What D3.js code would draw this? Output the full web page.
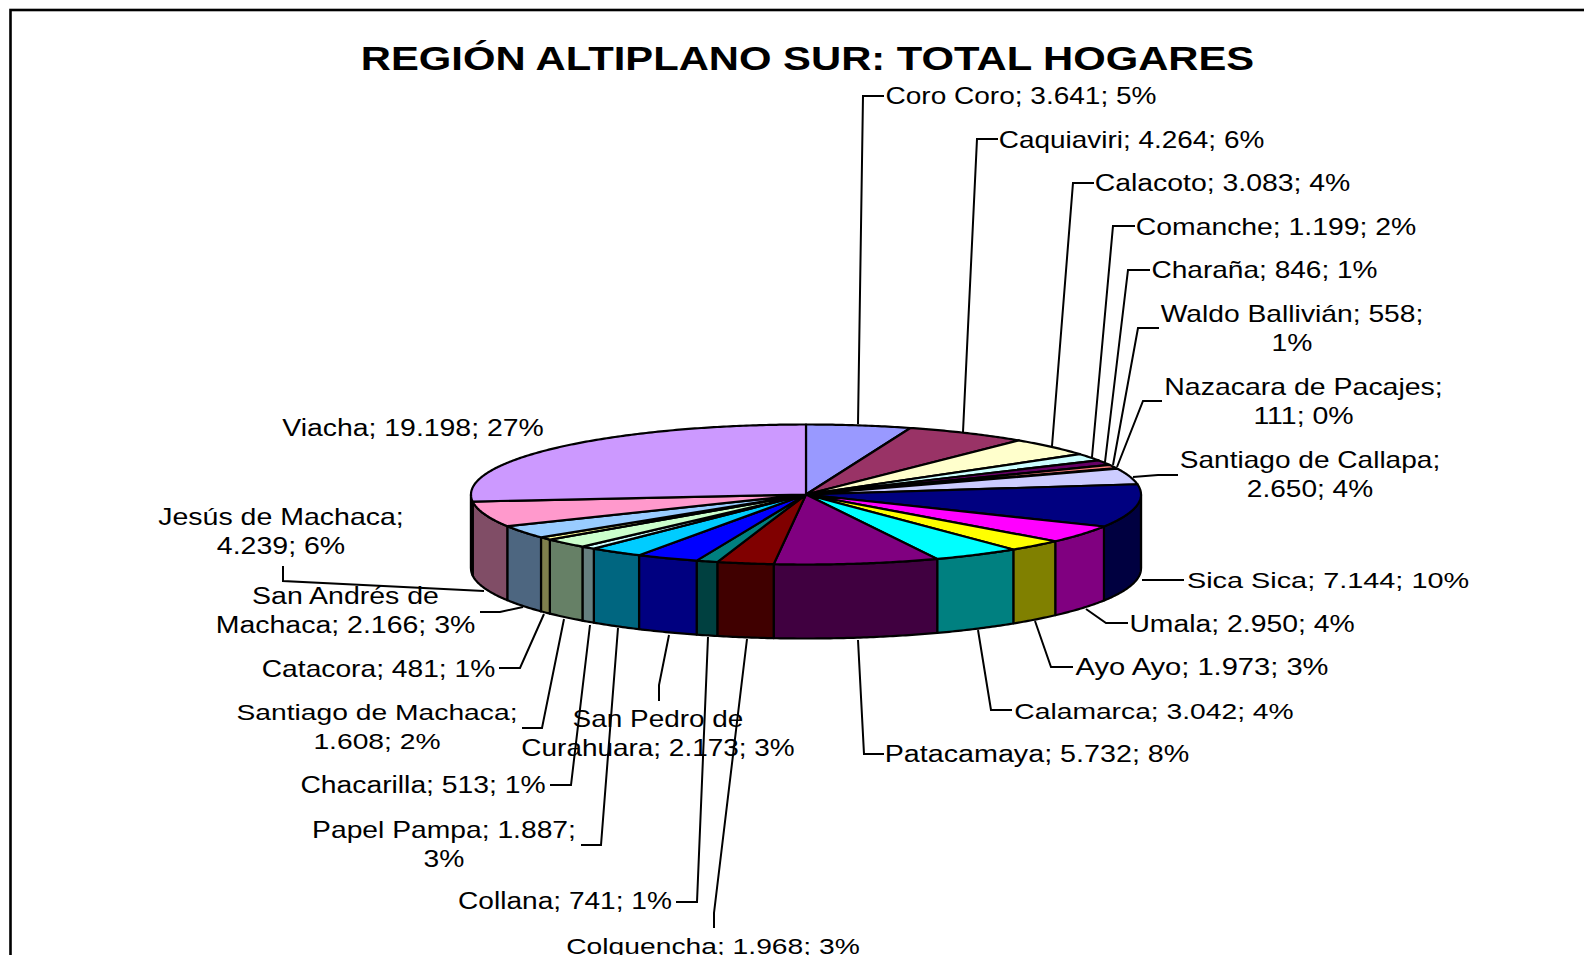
<!DOCTYPE html>
<html><head><meta charset="utf-8"><script src="https://cdn.jsdelivr.net/npm/d3@7"></script>
<style>html,body{margin:0;padding:0;background:#fff;overflow:hidden}svg{display:block}text{font-family:"Liberation Sans",Arial,sans-serif;fill:#000}</style></head>
<body><svg id="c" width="1584" height="955"></svg>
<script>
const titleText = "REGIÓN ALTIPLANO SUR: TOTAL HOGARES";
const categories = ["Coro Coro","Caquiaviri","Calacoto","Comanche","Charaña","Waldo Ballivián","Nazacara de Pacajes","Santiago de Callapa","Sica Sica","Umala","Ayo Ayo","Calamarca","Patacamaya","Colquencha","Collana","San Pedro de Curahuara","Papel Pampa","Chacarilla","Santiago de Machaca","Catacora","San Andrés de Machaca","Jesús de Machaca","Viacha"];
const values = [3641,4264,3083,1199,846,558,111,2650,7144,2950,1973,3042,5732,1968,741,2173,1887,513,1608,481,2166,4239,19198];
const colors = ["#9999FF","#993366","#FFFFCC","#CCFFFF","#660066","#FF8080","#0066CC","#CCCCFF","#000080","#FF00FF","#FFFF00","#00FFFF","#800080","#800000","#008080","#0000FF","#00CCFF","#CCFFFF","#CCFFCC","#FFFF99","#99CCFF","#FF99CC","#CC99FF"];
const labelLines = [
 ["Coro Coro; 3.641; 5%"],["Caquiaviri; 4.264; 6%"],["Calacoto; 3.083; 4%"],["Comanche; 1.199; 2%"],["Charaña; 846; 1%"],
 ["Waldo Ballivián; 558;","1%"],["Nazacara de Pacajes;","111; 0%"],["Santiago de Callapa;","2.650; 4%"],["Sica Sica; 7.144; 10%"],
 ["Umala; 2.950; 4%"],["Ayo Ayo; 1.973; 3%"],["Calamarca; 3.042; 4%"],["Patacamaya; 5.732; 8%"],["Colquencha; 1.968; 3%"],
 ["Collana; 741; 1%"],["San Pedro de","Curahuara; 2.173; 3%"],["Papel Pampa; 1.887;","3%"],["Chacarilla; 513; 1%"],
 ["Santiago de Machaca;","1.608; 2%"],["Catacora; 481; 1%"],["San Andrés de","Machaca; 2.166; 3%"],["Jesús de Machaca;","4.239; 6%"],["Viacha; 19.198; 27%"]];
const labelCentres = [1021,1131.5,1222.5,1276,1264.5,1292,1303.5,1310,1328,1242,1202,1154,1037,713,565,658,444,423,377,378.5,345.5,281,413];
const labelBaselines = [104,148,191,235,278,322,395,468,588,632,675,719,762,954,908.5,727,838,793,720,677,604,525,436];
const labelStretch = [1.219,1.215,1.234,1.233,1.220,1.229,1.238,1.220,1.255,1.232,1.266,1.228,1.248,1.228,1.221,1.215,1.229,1.230,1.228,1.226,1.239,1.240,1.234];
const lineHeight = 29.3;
const leaders = [
 [[884,96],[863,96],[858,424]],[[998,139],[977,139],[963,432]],[[1094,183],[1073,183],[1052,446]],[[1135,226],[1113,226],[1092,457]],
 [[1150,270],[1128,270],[1105,462]],[[1159,328],[1138,328],[1113,465]],[[1162,401],[1143,401],[1117,467]],[[1178,475],[1158,475],[1133,477]],
 [[1184,580],[1142,580]],[[1128,623],[1106,623],[1086,609]],[[1073,667],[1051,667],[1035,621]],[[1012,710],[991,710],[978,630]],
 [[884,754],[864,754],[858,640]],[[714,928],[714,913],[747,639]],[[676,902],[697,902],[708,637]],[[659,701],[659,685],[669,635]],
 [[581,845],[601,845],[618,628]],[[550,785],[571,785],[590,625]],[[522,728],[542,728],[564,619]],[[499,668],[520,668],[544,614]],
 [[480,612],[500,612],[523,607]],[[283,566],[283,581],[484,591]]];

const W=1584,H=955,cx=806,cy=494.5,rx=335,ry=70,depth=74;
const svg=d3.select("#c");
svg.append("rect").attr("x",10.5).attr("y",10).attr("width",W+20).attr("height",H+20).attr("fill","#fff").attr("stroke","#000").attr("stroke-width",2.6);

const pie=d3.pie().sort(null).value(d=>d)(values);
const px=a=>cx+rx*Math.sin(a), py=a=>cy-ry*Math.cos(a);
const darker=c=>{const r=d3.rgb(c);return d3.rgb(r.r/2,r.g/2,r.b/2).formatHex();};
function arcPts(a0,a1,yOff){const n=Math.max(2,Math.ceil((a1-a0)/0.01));return d3.range(n+1).map(i=>{const a=a0+(a1-a0)*i/n;return [px(a),py(a)+yOff];});}
const line=d3.line();
const g=svg.append("g").attr("stroke","#000").attr("stroke-width",2.2).attr("stroke-linejoin","round");
pie.forEach((s,i)=>{
  const a0=Math.max(s.startAngle,Math.PI/2), a1=Math.min(s.endAngle,Math.PI*1.5);
  if(a1<=a0) return;
  const top=arcPts(a0,a1,0), bot=arcPts(a0,a1,depth).reverse();
  g.append("path").attr("d",line(top.concat(bot))+"Z").attr("fill",darker(colors[i]));
});
g.append("path").attr("fill","none").attr("d",line([[px(Math.PI/2),cy],[px(Math.PI/2),cy+depth]]));
g.append("path").attr("fill","none").attr("d",line([[px(Math.PI*1.5),cy],[px(Math.PI*1.5),cy+depth]]));
pie.forEach((s,i)=>{
  g.append("path").attr("d",line([[cx,cy]].concat(arcPts(s.startAngle,s.endAngle,0)))+"Z").attr("fill",colors[i]).attr("stroke-width",s.value<200?1:2.2);
});
svg.append("g").attr("fill","none").attr("stroke","#000").attr("stroke-width",2).selectAll("path").data(leaders).join("path").attr("d",d=>line(d));
function stretchedText(str,x,y,size,weight,sx){
  svg.append("text").attr("transform",`translate(${x},${y}) scale(${sx},1)`).attr("text-anchor","middle").attr("font-size",size).attr("font-weight",weight||"normal").text(str);
}
stretchedText(titleText,807.5,69.5,33.5,"bold",1.247);
labelLines.forEach((ls,i)=>ls.forEach((t,j)=>stretchedText(t,labelCentres[i],labelBaselines[i]+j*lineHeight,23,"normal",labelStretch[i])));
</script></body></html>
